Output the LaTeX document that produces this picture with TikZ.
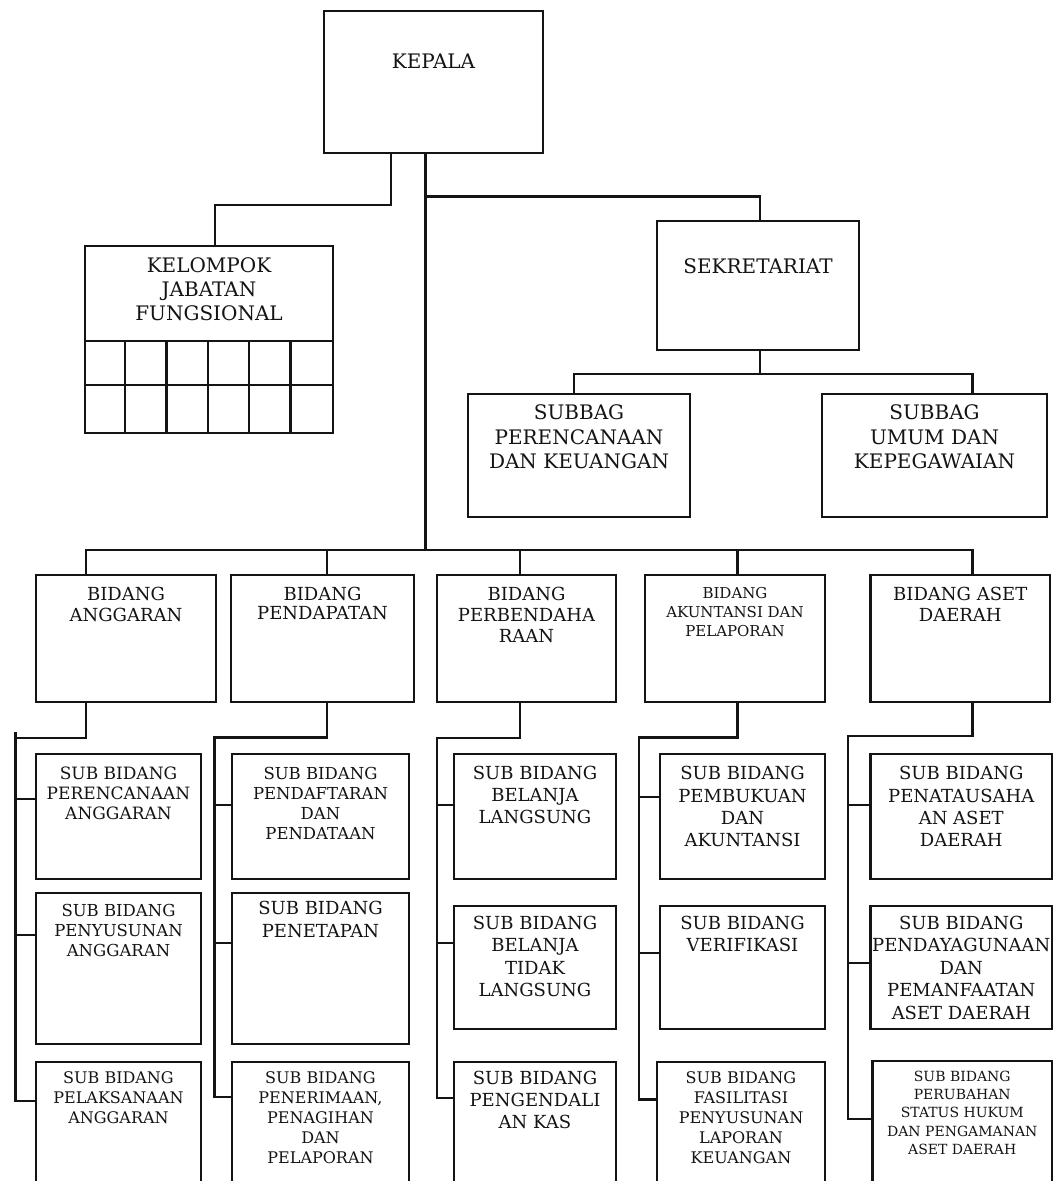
\documentclass[tikz,border=0pt]{standalone}
\usepackage{fontspec}
\setmainfont{DejaVu Serif}
\definecolor{ink}{RGB}{20,20,20}
\newcommand{\fsz}[2]{\fontsize{#1}{#2}\selectfont}
\begin{document}
\begin{tikzpicture}[x=1pt,y=-1pt,
  box/.style={draw=ink, line width=2.2pt, inner sep=0pt},
  txt/.style={inner sep=0pt, align=center, anchor=north, text=ink},
  conn/.style={draw=ink, line width=2.2pt}]
\useasboundingbox (0,0) rectangle (1054,1181);
\fill[white] (0,0) rectangle (1054,1181);
\clip (0,0) rectangle (1054,1181);

% ---- top level ----
\node[box, minimum width=219pt, minimum height=142pt] (kepala) at (433.5,82) {};
\node[txt, font=\fsz{20}{24}] (tkepala) at ([yshift=-43.7pt]kepala.north) {KEPALA};

\node[box, minimum width=248pt, minimum height=187pt] (kelompok) at (209,339.5) {};
\node[txt, font=\fsz{20}{24}] (tkelompok) at ([yshift=-12.7pt]kelompok.north) {KELOMPOK\\JABATAN\\FUNGSIONAL};
\draw[conn] ([yshift=-96pt]kelompok.north west) -- ([yshift=-96pt]kelompok.north east);
\draw[conn] ([yshift=-140pt]kelompok.north west) -- ([yshift=-140pt]kelompok.north east);
\foreach \i in {1,...,5}
  \draw[conn] ([xshift=\i*41.33pt, yshift=-96pt]kelompok.north west) -- ([xshift=\i*41.33pt]kelompok.south west);

\node[box, minimum width=202pt, minimum height=129pt] (sekre) at (758,285.5) {};
\node[txt, font=\fsz{20}{24}] (tsekre) at ([yshift=-38.7pt]sekre.north) {SEKRETARIAT};

\node[box, minimum width=222pt, minimum height=123pt] (subper) at (579,455.5) {};
\node[txt, font=\fsz{20}{24.5}] (tsubper) at ([yshift=-11.7pt]subper.north) {SUBBAG\\PERENCANAAN\\DAN KEUANGAN};
\node[box, minimum width=225pt, minimum height=123pt] (subumum) at (934.5,455.5) {};
\node[txt, font=\fsz{20}{24.5}] (tsubumum) at ([yshift=-11.7pt]subumum.north) {SUBBAG\\UMUM DAN\\KEPEGAWAIAN};

% ---- bidang row ----
\node[box, minimum width=180pt, minimum height=127pt] (bang) at (126,638.5) {};
\node[txt, font=\fsz{18}{20.5}] (tbang) at ([yshift=-13.4pt]bang.north) {BIDANG\\ANGGARAN};
\node[box, minimum width=183pt, minimum height=127pt] (bpen) at (322.5,638.5) {};
\node[txt, font=\fsz{18}{19}] (tbpen) at ([yshift=-13.4pt]bpen.north) {BIDANG\\PENDAPATAN};
\node[box, minimum width=179pt, minimum height=127pt] (bper) at (526.5,638.5) {};
\node[txt, font=\fsz{18}{21}] (tbper) at ([yshift=-13.4pt]bper.north) {BIDANG\\PERBENDAHA\\RAAN};
\node[box, minimum width=180pt, minimum height=127pt] (baku) at (735,638.5) {};
\node[txt, font=\fsz{15}{19}] (tbaku) at ([yshift=-13.2pt]baku.north) {BIDANG\\AKUNTANSI DAN\\PELAPORAN};
\node[box, minimum width=179.5pt, minimum height=127pt] (baset) at (960.25,638.5) {};
\node[txt, font=\fsz{18}{20.5}] (tbaset) at ([yshift=-13.4pt]baset.north) {BIDANG ASET\\DAERAH};

% ---- column 1 ----
\node[box, minimum width=165pt, minimum height=125pt] (s11) at (118.5,816.5) {};
\node[txt, font=\fsz{17}{20}] (ts11) at ([yshift=-13.8pt]s11.north) {SUB BIDANG\\PERENCANAAN\\ANGGARAN};
\node[box, minimum width=165pt, minimum height=151pt] (s12) at (118.5,968.5) {};
\node[txt, font=\fsz{16.5}{20.3}] (ts12) at ([yshift=-11.7pt]s12.north) {SUB BIDANG\\PENYUSUNAN\\ANGGARAN};
\node[box, minimum width=165pt, minimum height=138pt] (s13) at (118.5,1131) {};
\node[txt, font=\fsz{16}{20}] (ts13) at ([yshift=-10.2pt]s13.north) {SUB BIDANG\\PELAKSANAAN\\ANGGARAN};

% ---- column 2 ----
\node[box, minimum width=177pt, minimum height=125pt] (s21) at (320.5,816.5) {};
\node[txt, font=\fsz{16.5}{20}] (ts21) at ([yshift=-14.2pt]s21.north) {SUB BIDANG\\PENDAFTARAN\\DAN\\PENDATAAN};
\node[box, minimum width=177pt, minimum height=151pt] (s22) at (320.5,968.5) {};
\node[txt, font=\fsz{18}{23}] (ts22) at ([yshift=-9.4pt]s22.north) {SUB BIDANG\\PENETAPAN};
\node[box, minimum width=177pt, minimum height=138pt] (s23) at (320.5,1131) {};
\node[txt, font=\fsz{16}{20.2}] (ts23) at ([yshift=-10.2pt]s23.north) {SUB BIDANG\\PENERIMAAN,\\PENAGIHAN\\DAN\\PELAPORAN};

% ---- column 3 ----
\node[box, minimum width=162pt, minimum height=125pt] (s31) at (535,816.5) {};
\node[txt, font=\fsz{18}{21.7}] (ts31) at ([yshift=-13.4pt]s31.north) {SUB BIDANG\\BELANJA\\LANGSUNG};
\node[box, minimum width=162pt, minimum height=123pt] (s32) at (535,967.5) {};
\node[txt, font=\fsz{18}{22.5}] (ts32) at ([yshift=-11pt]s32.north) {SUB BIDANG\\BELANJA\\TIDAK\\LANGSUNG};
\node[box, minimum width=162pt, minimum height=138pt] (s33) at (535,1131) {};
\node[txt, font=\fsz{18}{22}] (ts33) at ([yshift=-10.2pt]s33.north) {SUB BIDANG\\PENGENDALI\\AN KAS};

% ---- column 4 ----
\node[box, minimum width=165pt, minimum height=125pt] (s41) at (742.5,816.5) {};
\node[txt, font=\fsz{18}{22.3}] (ts41) at ([yshift=-13.4pt]s41.north) {SUB BIDANG\\PEMBUKUAN\\DAN\\AKUNTANSI};
\node[box, minimum width=165pt, minimum height=123pt] (s42) at (742.5,967.5) {};
\node[txt, font=\fsz{18}{22.4}] (ts42) at ([yshift=-11pt]s42.north) {SUB BIDANG\\VERIFIKASI};
\node[box, minimum width=168pt, minimum height=138pt] (s43) at (741,1131) {};
\node[txt, font=\fsz{16}{20.2}] (ts43) at ([yshift=-10.2pt]s43.north) {SUB BIDANG\\FASILITASI\\PENYUSUNAN\\LAPORAN\\KEUANGAN};

% ---- column 5 ----
\node[box, minimum width=181.5pt, minimum height=125pt] (s51) at (961.25,816.5) {};
\node[txt, font=\fsz{18}{22.3}] (ts51) at ([yshift=-13.4pt]s51.north) {SUB BIDANG\\PENATAUSAHA\\AN ASET\\DAERAH};
\node[box, minimum width=181.5pt, minimum height=123pt] (s52) at (961.25,967.5) {};
\node[txt, font=\fsz{18}{22.5}] (ts52) at ([yshift=-11pt]s52.north) {SUB BIDANG\\PENDAYAGUNAAN\\DAN\\PEMANFAATAN\\ASET DAERAH};
\node[box, minimum width=179.5pt, minimum height=139pt] (s53) at (962.25,1130.5) {};
\node[txt, font=\fsz{14}{18.3}] (ts53) at ([yshift=-10.7pt]s53.north) {SUB BIDANG\\PERUBAHAN\\STATUS HUKUM\\DAN PENGAMANAN\\ASET DAERAH};

% ---- coordinates ----
\coordinate (busmid) at (425.5,550);
\coordinate (sj) at (425.5,196.4);
\coordinate (c1a) at (15.5,732);
\coordinate (c1top) at (15.5,738);
\coordinate (c2top) at (214.5,737.4);
\coordinate (c3top) at (437.3,738);
\coordinate (c4top) at (639,737.4);
\coordinate (c5top) at (848,736);

% ---- connectors: top ----
\draw[conn] ([xshift=-42.5pt]kepala.south) -- ++(0,50.5) -| ([xshift=6pt]kelompok.north);
\draw[conn] ([xshift=-8pt]kepala.south) -- (busmid);
\draw[conn] (sj) -| ([xshift=1.6pt]sekre.north);
\draw[conn] ([xshift=1.6pt]sekre.south) -- ++(0,23) coordinate (sbj);
\draw[conn] ([xshift=-5pt]subper.north) |- (sbj) -| ([xshift=38pt]subumum.north);

% ---- bus ----
\draw[conn] ([xshift=-40pt]bang.north) |- (busmid);
\draw[conn] ([xshift=12.2pt]baset.north) |- (busmid);
\draw[conn] ([xshift=4.5pt]bpen.north) -- ++(0,-25);
\draw[conn] ([xshift=-6.5pt]bper.north) -- ++(0,-25);
\draw[conn] ([xshift=2.5pt]baku.north) -- ++(0,-25);

% ---- column connectors ----
\draw[conn] ([xshift=-40pt]bang.south) |- (c1top);
\draw[conn] (c1a) |- ([yshift=-40pt]s13.north west);
\draw[conn] ([yshift=-46pt]s11.north west) -- ++(-20.5,0);
\draw[conn] ([yshift=-43pt]s12.north west) -- ++(-20.5,0);

\draw[conn] ([xshift=4.5pt]bpen.south) |- (c2top) |- ([yshift=-36pt]s23.north west);
\draw[conn] ([yshift=-52pt]s21.north west) -- ++(-17.5,0);
\draw[conn] ([yshift=-51pt]s22.north west) -- ++(-17.5,0);

\draw[conn] ([xshift=-6.5pt]bper.south) |- (c3top) |- ([yshift=-37pt]s33.north west);
\draw[conn] ([yshift=-52pt]s31.north west) -- ++(-16.7,0);
\draw[conn] ([yshift=-38pt]s32.north west) -- ++(-16.7,0);

\draw[conn] ([xshift=2.5pt]baku.south) |- (c4top) |- ([yshift=-38.6pt]s43.north west);
\draw[conn] ([yshift=-44pt]s41.north west) -- ++(-21,0);
\draw[conn] ([yshift=-48pt]s42.north west) -- ++(-21,0);

\draw[conn] ([xshift=12.2pt]baset.south) |- (c5top) |- ([yshift=-59pt]s53.north west);
\draw[conn] ([yshift=-52pt]s51.north west) -- ++(-22.5,0);
\draw[conn] ([yshift=-58pt]s52.north west) -- ++(-22.5,0);
\end{tikzpicture}
\end{document}
